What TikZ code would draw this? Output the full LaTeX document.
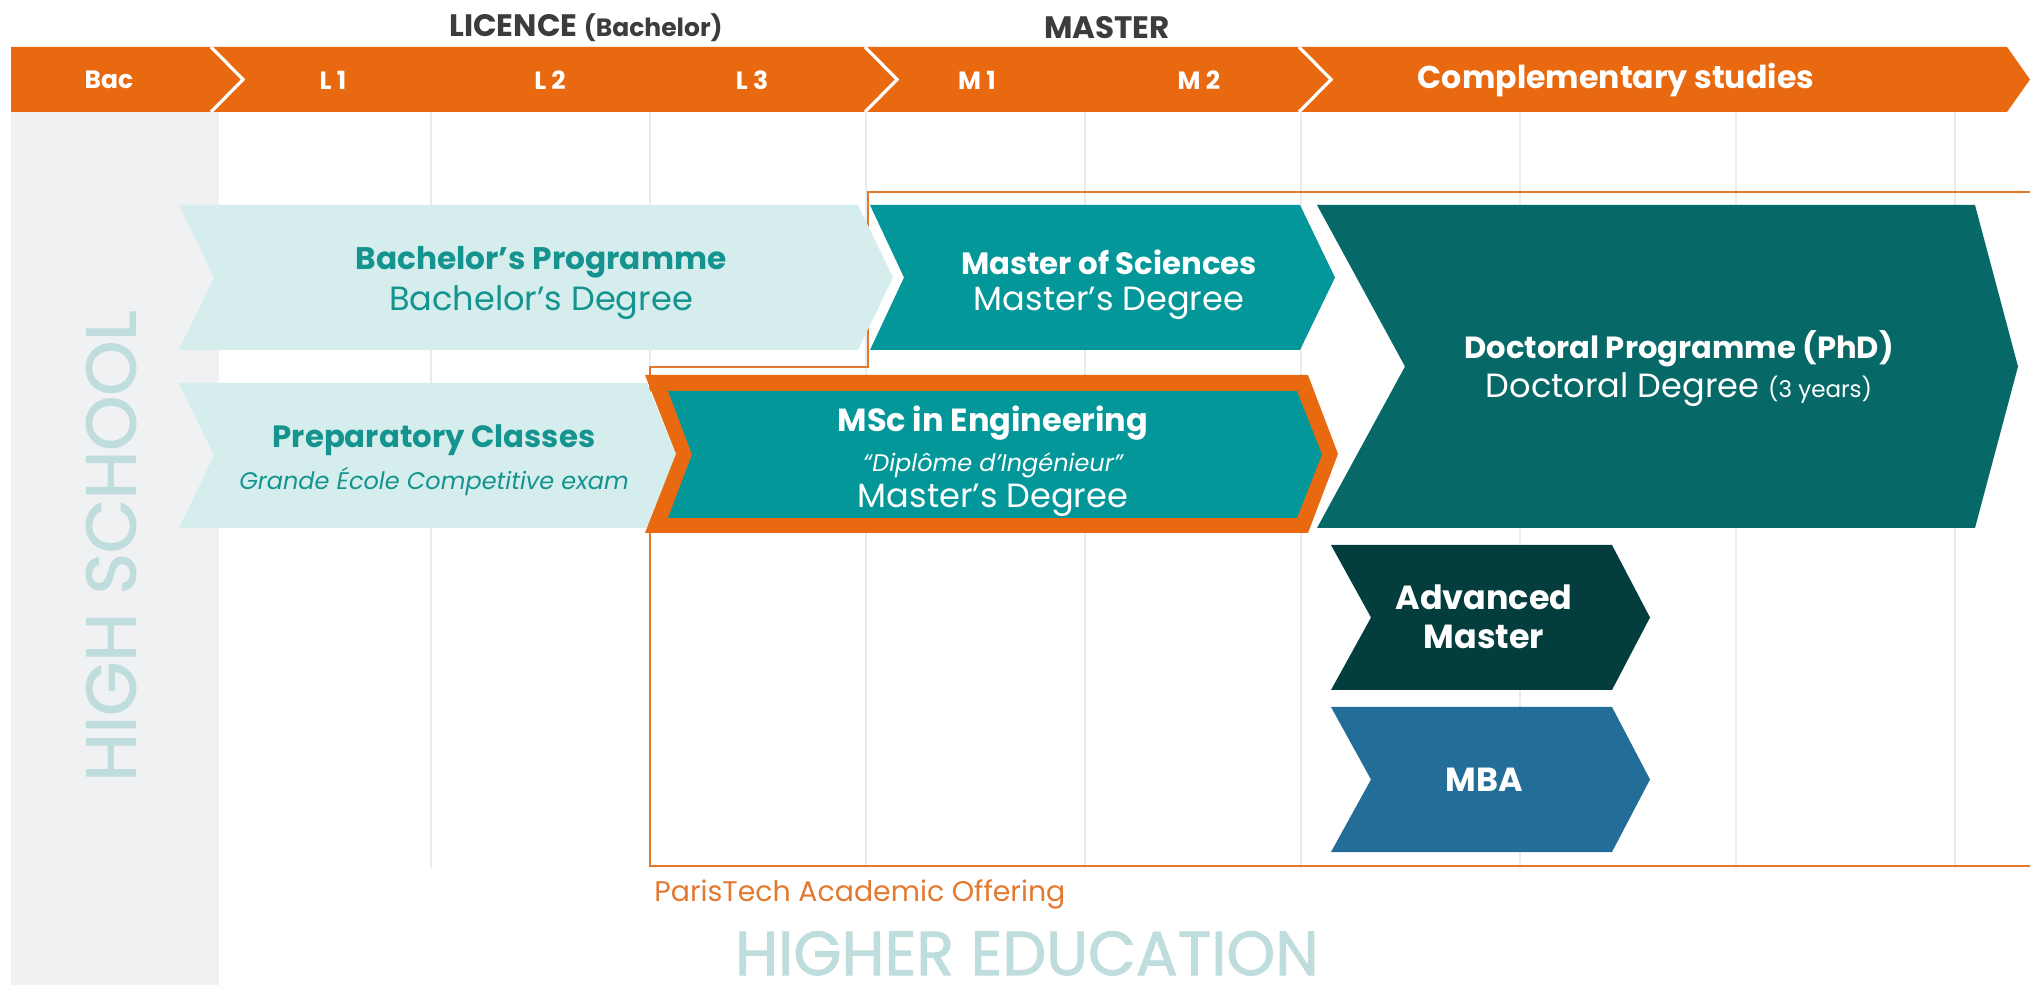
\documentclass[tikz,border=0pt]{standalone}
\usepackage{fontspec}
\setmainfont{Poppins}
\newfontfamily\wmfont[FakeBold=1.6]{Poppins}
\definecolor{barorange}{HTML}{E8690F}
\definecolor{lightteal}{HTML}{D5EEED}
\definecolor{tealtext}{HTML}{14938F}
\definecolor{mscteal}{HTML}{03979A}
\definecolor{docteal}{HTML}{066968}
\definecolor{advgreen}{HTML}{033D3D}
\definecolor{mbablue}{HTML}{226E98}
\definecolor{hsgray}{HTML}{EFF1F3}
\definecolor{gridgray}{HTML}{EBEBEB}
\definecolor{watermark}{HTML}{C0DDDD}
\definecolor{ptorange}{HTML}{E3792F}
\definecolor{headgray}{HTML}{3C3C3C}
\newcommand\fsz[1]{\fontsize{#1}{#1}\selectfont}
% color, left, notch, right, tip, top, bottom
\newcommand\chevshape[7]{\fill[#1] (#2,#6) -- (#4,#6) -- (#5,{(#6+#7)/2}) -- (#4,#7) -- (#2,#7) -- (#3,{(#6+#7)/2}) -- cycle;}
\tikzset{
  barlbl/.style={text=white, font=\bfseries\fsz{12.5}, inner sep=0pt},
  headlbl/.style={text=headgray, font=\bfseries, inner sep=0pt},
  ttl/.style={font=\bfseries\fsz{15.6}, inner sep=0pt},
  sub/.style={font=\fsz{16.8}, inner sep=0pt},
  wmark/.style={text=watermark, inner sep=0pt},
}
\begin{document}
\begin{tikzpicture}[x=0.5pt, y=-0.5pt]
\useasboundingbox (0,0) rectangle (2030,988);
% high school column
\fill[hsgray] (11,112) rectangle (219,985);
% grid
\foreach \gx in {431,650,866,1085,1301,1520,1736,1955}
  \draw[gridgray, line width=0.8pt] (\gx,112) -- (\gx,868);
% orange bar
\fill[barorange] (11,47) -- (2007,47) -- (2030,79.5) -- (2007,112) -- (11,112) -- cycle;
\foreach \sx in {211,865,1299}
  \draw[white, line width=1.6pt] (\sx,47) -- (\sx+32,79.5) -- (\sx,112);
\node[barlbl] (bac) at (109,80) {Bac};
\node[barlbl] (l1) at (333,80) {L 1};
\node[barlbl] (l2) at (550,80) {L 2};
\node[barlbl] (l3) at (752,80) {L 3};
\node[barlbl] (m1) at (977,80) {M 1};
\node[barlbl] (m2) at (1199,80) {M 2};
\node[barlbl, font=\bfseries\fsz{15.8}] (comp) at (1616,80) {Complementary studies};
% headers
\node[headlbl] (licence) at (586,28) {\fsz{15.5}LICENCE \fsz{12.5}(Bachelor)};
\node[headlbl] (master) at (1107,28) {\fsz{15.5}MASTER};
% ParisTech box
\draw[ptorange, line width=1.3pt] (2030,192) -- (868,192) -- (868,367) -- (650,367) -- (650,866) -- (2030,866);
% chevrons
\chevshape{lightteal}{179}{214}{858}{893}{205}{350}
\chevshape{lightteal}{179}{214}{647}{676}{383}{528}
\chevshape{mscteal}{870}{904}{1300}{1335}{205}{350}
\chevshape{barorange}{645}{676}{1308}{1338}{375}{533}
\chevshape{mscteal}{668}{692}{1297}{1322}{391}{518}
\chevshape{docteal}{1317}{1405}{1975}{2018}{205}{528}
\chevshape{advgreen}{1331}{1371}{1612}{1650}{545}{690}
\chevshape{mbablue}{1331}{1371}{1612}{1650}{707}{852}
% texts
\node[ttl, text=tealtext] (bp) at (541,262) {Bachelor’s Programme};
\node[sub, text=tealtext] (bd) at (541,303) {Bachelor’s Degree};
\node[ttl, text=tealtext, font=\bfseries\fsz{15.4}] (pc) at (434,440) {Preparatory Classes};
\node[font=\itshape\fsz{12}, inner sep=0pt, text=tealtext] (ge) at (434,481) {Grande École Competitive exam};
\node[ttl, text=white, font=\bfseries\fsz{15.4}] (ms) at (1109,262) {Master of Sciences};
\node[sub, text=white] (msd) at (1109,303) {Master’s Degree};
\node[ttl, text=white, font=\bfseries\fsz{16}] (me) at (993,423) {MSc in Engineering};
\node[font=\itshape\fsz{12}, inner sep=0pt, text=white] (dip) at (993,465) {“Diplôme d’Ingénieur”};
\node[sub, text=white] (med) at (993,500) {Master’s Degree};
\node[ttl, text=white, font=\bfseries\fsz{15.3}] (dp) at (1679,349) {Doctoral Programme (PhD)};
\node[sub, text=white] (dd) at (1679,390) {Doctoral Degree {\fsz{11.5}(3 years)}};
\node[text=white, align=center, inner sep=0pt, font=\bfseries\fsz{16.7}] (am) at (1484,617) {Advanced\\[2.8pt]Master};
\node[text=white, inner sep=0pt, font=\bfseries\fsz{16.7}] (mba) at (1484,780) {MBA};
\node[text=ptorange, font=\fsz{14.2}, inner sep=0pt, anchor=west] (pt) at (654,894) {ParisTech Academic Offering};
\node[wmark, font=\wmfont\fsz{31}, anchor=base] (he) at (1027,975) {HIGHER EDUCATION};
\node[wmark, font=\wmfont\fsz{35}, rotate=90] (hs) at (111,546) {HIGH SCHOOL};
\end{tikzpicture}
\end{document}
